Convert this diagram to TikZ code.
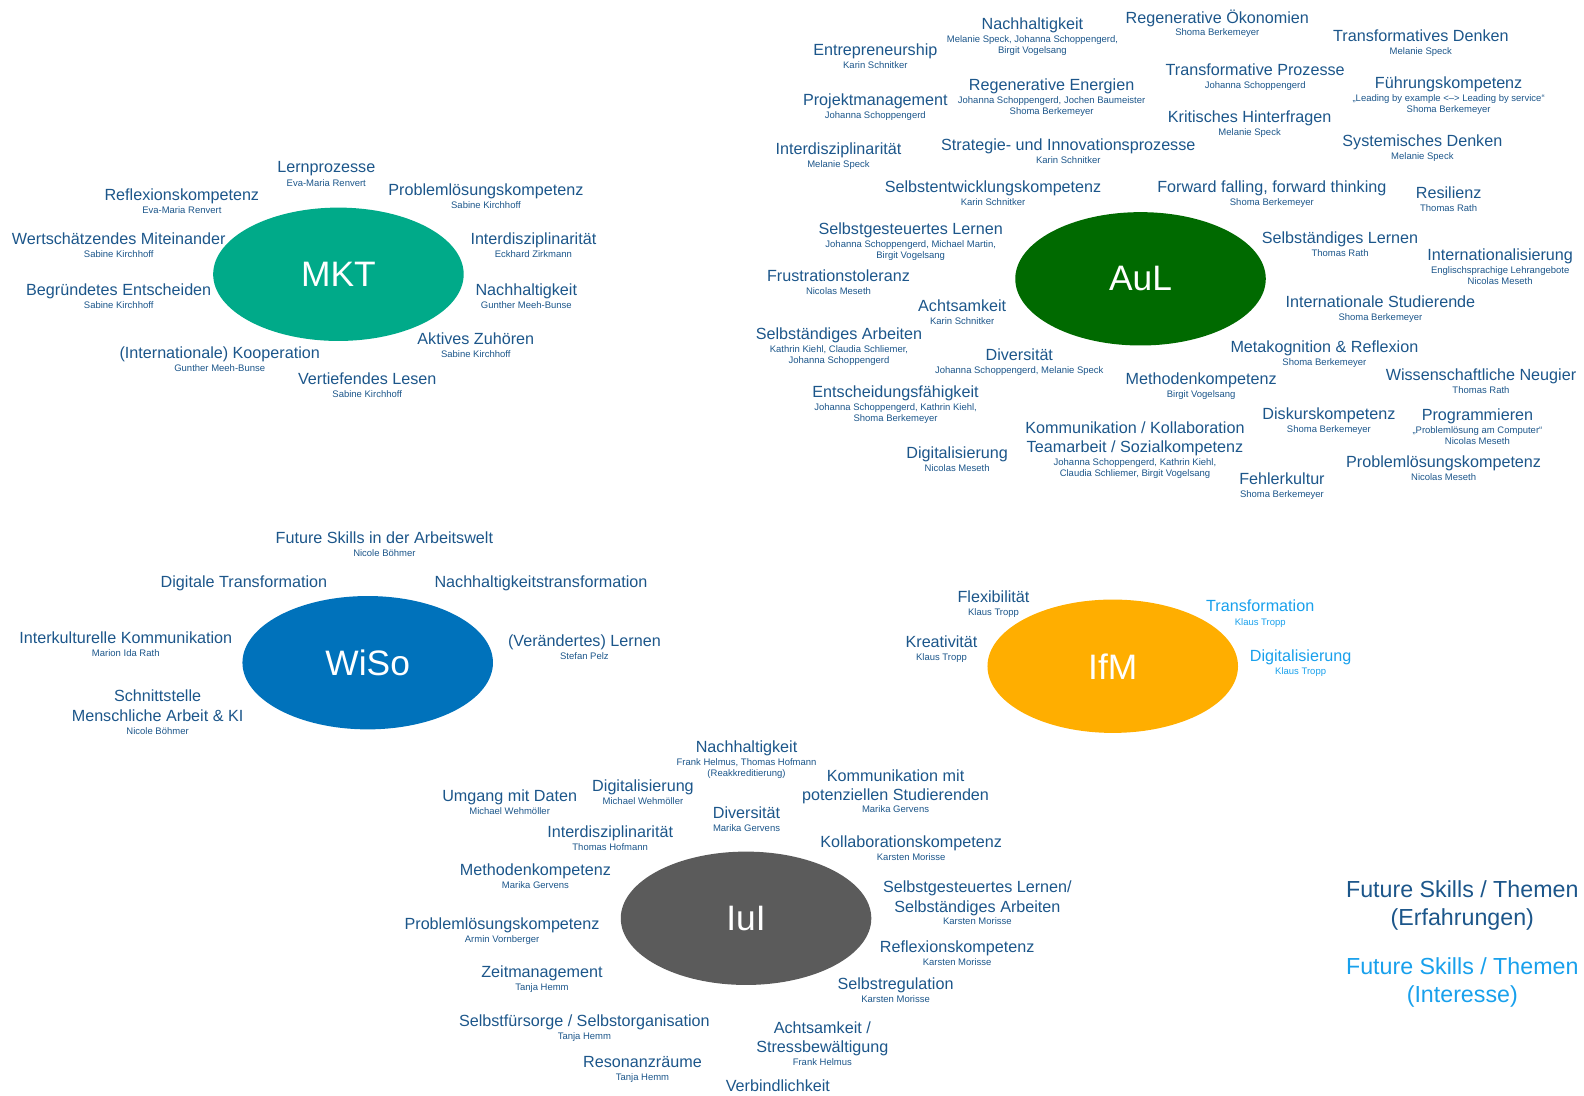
\documentclass[tikz,border=0pt]{standalone}
\usepackage{fontspec}
\setmainfont{Liberation Sans}
\usetikzlibrary{shapes.geometric}
\definecolor{tdark}{RGB}{28,86,138}
\definecolor{tlight}{RGB}{24,160,236}
\definecolor{cmkt}{RGB}{0,170,137}
\definecolor{caul}{RGB}{0,106,0}
\definecolor{cwiso}{RGB}{0,114,187}
\definecolor{cifm}{RGB}{255,174,0}
\definecolor{ciui}{RGB}{91,91,91}
\tikzset{
  ttl/.style={inner sep=0pt, align=center, font=\fontsize{16}{19}\selectfont, text=tdark},
  auth/.style={inner sep=0pt, align=center, font=\fontsize{9.4}{10.8}\selectfont, text=tdark},
  hub/.style={ellipse, minimum width=248pt, minimum height=132pt, inner sep=0pt, text=white, font=\fontsize{35}{40}\selectfont},
  legendtxt/.style={inner sep=0pt, align=center, font=\fontsize{23}{27}\selectfont},
  lightskill/.style={text=tlight}
}
% #1 options, #2 name, #3 x, #4 y of first title line, #5 y of last title line, #6 title, #7 authors
\newcommand\skl[7][]{%
  \node[ttl,#1,anchor=north] (#2) at (#3,#4-6) {#6};
  \node[auth,#1,anchor=north] (#2-a) at (#3,#5+11.7) {#7};
}
% title only
\newcommand\skt[5][]{%
  \node[ttl,#1,anchor=north] (#2) at (#3,#4-6) {#5};
}
\begin{document}
\begin{tikzpicture}[x=1pt,y=-1pt]
\useasboundingbox (0,0) rectangle (1568,1084);

% hubs
\node[hub, fill=cmkt] (mkt) at (335,271.5) {MKT};
\node[hub, fill=caul] (aul) at (1129,276) {AuL};
\node[hub, fill=cwiso] (wiso) at (364,656) {WiSo};
\node[hub, fill=cifm] (ifm) at (1101.5,659.5) {IfM};
\node[hub, fill=ciui] (iui) at (738.5,909) {IuI};

% MKT
\skl{m1}{323}{166}{166}{Lernprozesse}{Eva-Maria Renvert}
\skl{m2}{180}{193}{193}{Reflexionskompetenz}{Eva-Maria Renvert}
\skl{m3}{481}{188}{188}{Problemlösungskompetenz}{Sabine Kirchhoff}
\skl{m4}{117.5}{236}{236}{Wertschätzendes Miteinander}{Sabine Kirchhoff}
\skl{m5}{528}{236}{236}{Interdisziplinarität}{Eckhard Zirkmann}
\skl{m6}{117.5}{287}{287}{Begründetes Entscheiden}{Sabine Kirchhoff}
\skl{m7}{521}{287}{287}{Nachhaltigkeit}{Gunther Meeh-Bunse}
\skl{m8}{471}{335}{335}{Aktives Zuhören}{Sabine Kirchhoff}
\skl{m9}{217.5}{349}{349}{(Internationale) Kooperation}{Gunther Meeh-Bunse}
\skl{m10}{363.5}{375}{375}{Vertiefendes Lesen}{Sabine Kirchhoff}

% AuL
\skl{a1}{1022}{23}{23}{Nachhaltigkeit}{Melanie Speck, Johanna Schoppengerd,\\Birgit Vogelsang}
\skl{a2}{1205}{16}{16}{Regenerative Ökonomien}{Shoma Berkemeyer}
\skl{a3}{1406.5}{35}{35}{Transformatives Denken}{Melanie Speck}
\skl{a4}{866.5}{49}{49}{Entrepreneurship}{Karin Schnitker}
\skl{a5}{1041}{84}{84}{Regenerative Energien}{Johanna Schoppengerd, Jochen Baumeister\\Shoma Berkemeyer}
\skl{a6}{1242.5}{69}{69}{Transformative Prozesse}{Johanna Schoppengerd}
\skl{a7}{1434}{82}{82}{Führungskompetenz}{„Leading by example <–> Leading by service“\\Shoma Berkemeyer}
\skl{a8}{866.5}{99}{99}{Projektmanagement}{Johanna Schoppengerd}
\skl{a9}{1237}{115}{115}{Kritisches Hinterfragen}{Melanie Speck}
\skl{a10}{1408}{139}{139}{Systemisches Denken}{Melanie Speck}
\skl{a11}{830}{147}{147}{Interdisziplinarität}{Melanie Speck}
\skl{a12}{1057.5}{143}{143}{Strategie- und Innovationsprozesse}{Karin Schnitker}
\skl{a13}{983}{185}{185}{Selbstentwicklungskompetenz}{Karin Schnitker}
\skl{a14}{1259}{185}{185}{Forward falling, forward thinking}{Shoma Berkemeyer}
\skl{a15}{1434}{191}{191}{Resilienz}{Thomas Rath}
\skl{a16}{901.5}{226}{226}{Selbstgesteuertes Lernen}{Johanna Schoppengerd, Michael Martin,\\Birgit Vogelsang}
\skl{a17}{1326.5}{235}{235}{Selbständiges Lernen}{Thomas Rath}
\skl{a18}{1485}{252}{252}{Internationalisierung}{Englischsprachige Lehrangebote\\Nicolas Meseth}
\skl{a19}{830}{273}{273}{Frustrationstoleranz}{Nicolas Meseth}
\skl{a20}{952.5}{303}{303}{Achtsamkeit}{Karin Schnitker}
\skl{a21}{1366.5}{299}{299}{Internationale Studierende}{Shoma Berkemeyer}
\skl{a22}{830.5}{330}{330}{Selbständiges Arbeiten}{Kathrin Kiehl, Claudia Schliemer,\\Johanna Schoppengerd}
\skl{a23}{1009}{351}{351}{Diversität}{Johanna Schoppengerd, Melanie Speck}
\skl{a24}{1311}{343}{343}{Metakognition \& Reflexion}{Shoma Berkemeyer}
\skl{a25}{1189}{375}{375}{Methodenkompetenz}{Birgit Vogelsang}
\skl{a26}{1466}{371}{371}{Wissenschaftliche Neugier}{Thomas Rath}
\skl{a27}{886.5}{388}{388}{Entscheidungsfähigkeit}{Johanna Schoppengerd, Kathrin Kiehl,\\Shoma Berkemeyer}
\skl{a28}{1315.5}{409}{409}{Diskurskompetenz}{Shoma Berkemeyer}
\skl{a29}{1462.5}{410}{410}{Programmieren}{„Problemlösung am Computer“\\Nicolas Meseth}
\skl{a30}{1123.5}{423}{442}{Kommunikation / Kollaboration\\Teamarbeit / Sozialkompetenz}{Johanna Schoppengerd, Kathrin Kiehl,\\Claudia Schliemer, Birgit Vogelsang}
\skl{a31}{947.5}{448}{448}{Digitalisierung}{Nicolas Meseth}
\skl{a32}{1429}{457}{457}{Problemlösungskompetenz}{Nicolas Meseth}
\skl{a33}{1269}{474}{474}{Fehlerkultur}{Shoma Berkemeyer}

% WiSo
\skl{w1}{380.5}{532}{532}{Future Skills in der Arbeitswelt}{Nicole Böhmer}
\skt{w2}{241.5}{576}{Digitale Transformation}
\skt{w3}{535.5}{576}{Nachhaltigkeitstransformation}
\skl{w4}{124.5}{631}{631}{Interkulturelle Kommunikation}{Marion Ida Rath}
\skl{w5}{578.5}{634}{634}{(Verändertes) Lernen}{Stefan Pelz}
\skl{w6}{156}{689}{708}{Schnittstelle\\Menschliche Arbeit \& KI}{Nicole Böhmer}

% IfM
\skl{f1}{983.5}{591}{591}{Flexibilität}{Klaus Tropp}
\skl{f2}{932}{635}{635}{Kreativität}{Klaus Tropp}
\skl[lightskill]{f3}{1247.5}{600}{600}{Transformation}{Klaus Tropp}
\skl[lightskill]{f4}{1287.5}{649}{649}{Digitalisierung}{Klaus Tropp}

% IuI
\skl{i1}{739}{739}{739}{Nachhaltigkeit}{Frank Helmus, Thomas Hofmann\\(Reakkreditierung)}
\skl{i2}{886.5}{768}{786}{Kommunikation mit\\potenziellen Studierenden}{Marika Gervens}
\skl{i3}{504.5}{788}{788}{Umgang mit Daten}{Michael Wehmöller}
\skl{i4}{636.5}{778}{778}{Digitalisierung}{Michael Wehmöller}
\skl{i5}{739}{804}{804}{Diversität}{Marika Gervens}
\skl{i6}{604}{823}{823}{Interdisziplinarität}{Thomas Hofmann}
\skl{i7}{902}{833}{833}{Kollaborationskompetenz}{Karsten Morisse}
\skl{i8}{530}{861}{861}{Methodenkompetenz}{Marika Gervens}
\skl{i9}{967.5}{878}{896}{Selbstgesteuertes Lernen/\\Selbständiges Arbeiten}{Karsten Morisse}
\skl{i10}{497}{914}{914}{Problemlösungskompetenz}{Armin Vornberger}
\skl{i11}{947.5}{937}{937}{Reflexionskompetenz}{Karsten Morisse}
\skl{i12}{536.5}{962}{962}{Zeitmanagement}{Tanja Hemm}
\skl{i13}{886.5}{974}{974}{Selbstregulation}{Karsten Morisse}
\skl{i14}{578.5}{1010}{1010}{Selbstfürsorge / Selbstorganisation}{Tanja Hemm}
\skl{i15}{814}{1017}{1036}{Achtsamkeit /\\Stressbewältigung}{Frank Helmus}
\skl{i16}{636}{1051}{1051}{Resonanzräume}{Tanja Hemm}
\skt{i17}{770}{1075}{Verbindlichkeit}

% legend
\node[legendtxt, text=tdark, anchor=north] (leg1) at (1447.5,872) {Future Skills / Themen\\(Erfahrungen)};
\node[legendtxt, text=tlight, anchor=north] (leg2) at (1447.5,948) {Future Skills / Themen\\(Interesse)};
\end{tikzpicture}
\end{document}
